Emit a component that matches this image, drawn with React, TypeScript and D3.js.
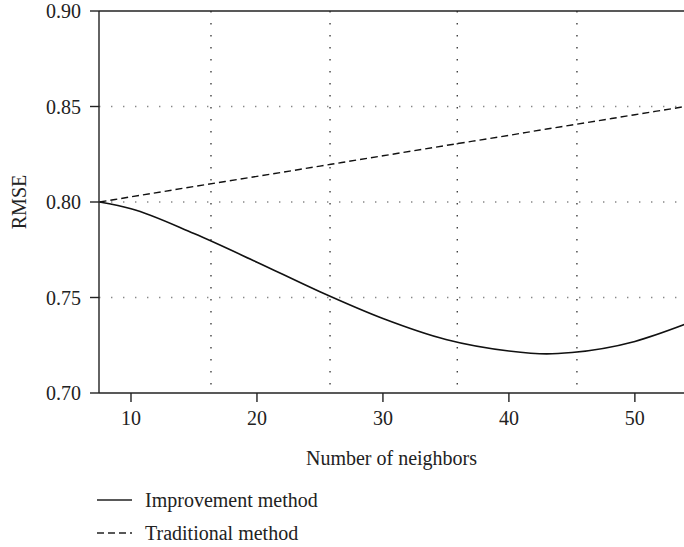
import React from 'react';
import * as d3 from 'd3';

const neighbors = [7.5, 10, 15, 20, 25, 30, 35, 40, 43, 45, 50, 54];
const improvement = [0.8, 0.7965, 0.7835, 0.7685, 0.753, 0.739, 0.728, 0.722, 0.7205, 0.7212, 0.727, 0.736];
const traditional = [0.8, 0.8027, 0.8081, 0.8134, 0.8188, 0.8242, 0.8296, 0.8349, 0.8382, 0.8403, 0.8457, 0.85];

const xTicks = [10, 20, 30, 40, 50];
const yTicks = [0.7, 0.75, 0.8, 0.85, 0.9];
const yGrid = [0.75, 0.8, 0.85];
const xGrid = [16.35, 25.8, 35.9, 45.4];
const legendItems = ['Improvement method', 'Traditional method'];

const W = 684, H = 547;
const left = 99, top = 11, right = 684, bottom = 393;
const font = '"Liberation Serif", "Times New Roman", serif';

export default function App() {
  const x = d3.scaleLinear().domain([7.46, 53.9]).range([left, right]);
  const y = d3.scaleLinear().domain([0.7, 0.9]).range([bottom, top]);

  const line = d3.line<number>()
    .x((d, i) => x(neighbors[i]))
    .y(d => y(d))
    .curve(d3.curveMonotoneX);

  return (
    <svg width={W} height={H} style={{ position: 'absolute', left: 0, top: 0, background: '#fff' }}
      fontFamily={font}>
      <defs>
        <clipPath id="plot">
          <rect x={left} y={top} width={right - left} height={bottom - top} />
        </clipPath>
      </defs>

      {/* grid */}
      {yGrid.map(v => (
        <line key={'gy' + v} x1={left} x2={right} y1={y(v)} y2={y(v)}
          stroke="#888" strokeWidth={1.4} strokeDasharray="1.4,10.6" />
      ))}
      {xGrid.map(v => (
        <line key={'gx' + v} x1={x(v)} x2={x(v)} y1={top} y2={bottom}
          stroke="#222" strokeWidth={1.2} strokeDasharray="1.4,10.6" />
      ))}

      {/* curves */}
      <g clipPath="url(#plot)">
        <path d={line(improvement) || ''} fill="none" stroke="#111" strokeWidth={1.6} />
        <path d={line(traditional) || ''} fill="none" stroke="#111" strokeWidth={1.4} strokeDasharray="7,4" />
      </g>

      {/* axes frame */}
      <line x1={left} x2={left} y1={top} y2={bottom} stroke="#222" strokeWidth={1.4} />
      <line x1={left} x2={right} y1={top} y2={top} stroke="#222" strokeWidth={1.4} />
      <line x1={left} x2={right} y1={bottom} y2={bottom} stroke="#222" strokeWidth={1.4} />

      {yTicks.map(v => (
        <g key={'ty' + v}>
          <line x1={left - 9} x2={left} y1={y(v)} y2={y(v)} stroke="#222" strokeWidth={1.4} />
          <text x={left - 18} y={y(v)} dy="0.35em" textAnchor="end" fontSize={20} fill="#222">
            {d3.format('.2f')(v)}
          </text>
        </g>
      ))}
      {xTicks.map(v => (
        <g key={'tx' + v}>
          <line x1={x(v)} x2={x(v)} y1={bottom} y2={bottom + 9} stroke="#222" strokeWidth={1.4} />
          <text x={x(v)} y={bottom + 32} textAnchor="middle" fontSize={20} fill="#222">{v}</text>
        </g>
      ))}

      <text x={(left + right) / 2} y={bottom + 72} textAnchor="middle" fontSize={20} fill="#222">
        Number of neighbors
      </text>
      <text transform={`translate(26,${(top + bottom) / 2}) rotate(-90)`} textAnchor="middle" fontSize={20} fill="#222">
        RMSE
      </text>

      {/* legend */}
      {legendItems.map((name, i) => (
        <g key={name} transform={`translate(97,${500 + i * 33})`}>
          <line x1={0} x2={35} y1={0} y2={0} stroke="#222" strokeWidth={1.4}
            strokeDasharray={i === 1 ? '7,4' : undefined} />
          <text x={48} y={0} dy="0.35em" fontSize={20} fill="#222">{name}</text>
        </g>
      ))}
    </svg>
  );
}
